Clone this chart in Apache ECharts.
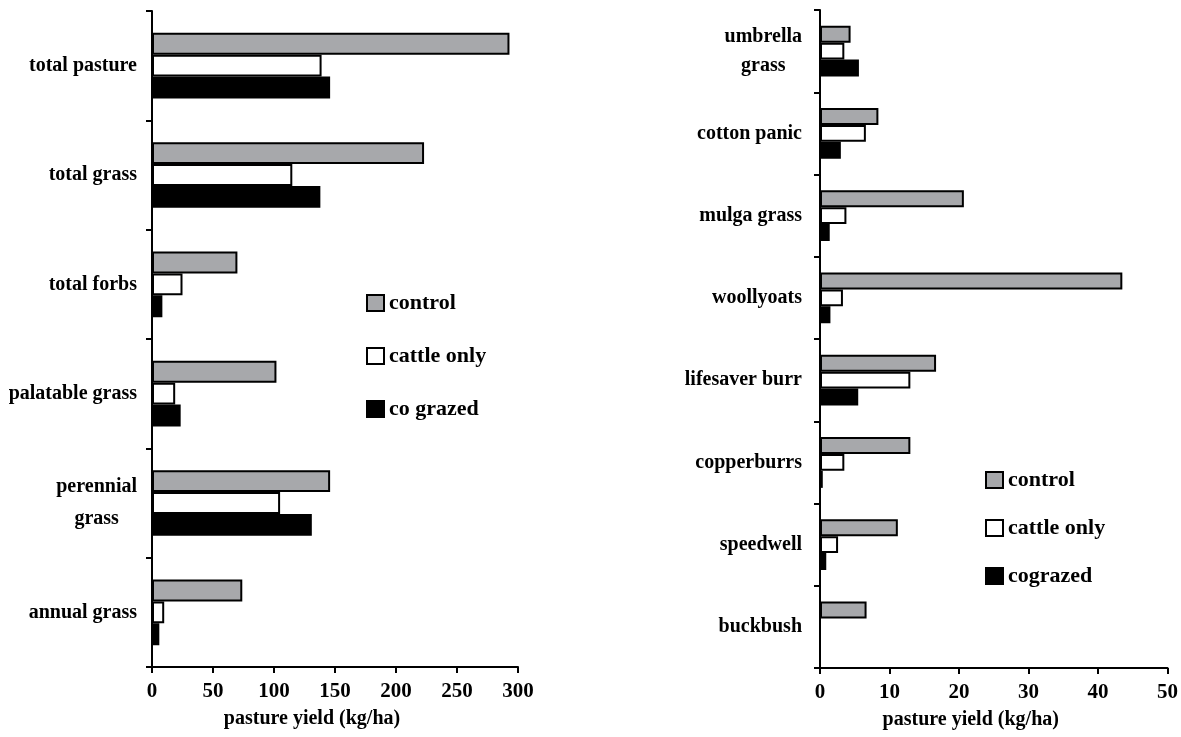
<!DOCTYPE html>
<html>
<head>
<meta charset="utf-8">
<script src="https://cdn.jsdelivr.net/npm/echarts@6/dist/echarts.min.js"></script>
<style>
  html, body { margin: 0; padding: 0; background: #fff; }
  #chart { width: 1181px; height: 737px; }
</style>
</head>
<body>
<div id="chart"></div>
<script>
// Pasture yield by component (left) and by species (right), kg/ha
const leftCategories = ['total pasture', 'total grass', 'total forbs', 'palatable grass', 'perennial\ngrass', 'annual grass'];
const leftControl = [293, 223, 70, 102, 146, 74];
const leftCattleOnly = [139, 115, 25, 19, 105, 10];
const leftCoGrazed = [146, 138, 8.5, 23.5, 131, 6];

const rightCategories = ['umbrella\ngrass', 'cotton panic', 'mulga grass', 'woollyoats', 'lifesaver burr', 'copperburrs', 'speedwell', 'buckbush'];
const rightControl = [4.4, 8.4, 20.7, 43.5, 16.7, 13.0, 11.2, 6.7];
const rightCattleOnly = [3.5, 6.6, 3.8, 3.3, 13.0, 3.5, 2.6, 0];
const rightCoGrazed = [5.6, 3.0, 1.4, 1.5, 5.5, 0.4, 0.9, 0];

const leftTicks = { min: 0, max: 300, interval: 50 };
const rightTicks = { min: 0, max: 50, interval: 10 };

const FONT = '"Liberation Serif", "Times New Roman", serif';
const GREY = '#a7a8ab';

const chart = echarts.init(document.getElementById('chart'));

function valueAxis(gridIndex, ticks) {
  return {
    type: 'value', gridIndex: gridIndex,
    min: ticks.min, max: ticks.max, interval: ticks.interval,
    name: 'pasture yield (kg/ha)', nameLocation: 'middle', nameGap: 42,
    nameTextStyle: { fontFamily: FONT, fontSize: 20, fontWeight: 'bold', color: '#000', padding: [0, 46, 0, 0] },
    axisLine: { show: true, lineStyle: { color: '#000', width: 2 } },
    axisTick: { show: true, length: 6, lineStyle: { color: '#000', width: 2 } },
    axisLabel: { fontFamily: FONT, fontSize: 21, fontWeight: 'bold', color: '#000', margin: 14 },
    splitLine: { show: false }
  };
}

function categoryAxis(gridIndex, cats, lineHeight, margin) {
  return {
    type: 'category', gridIndex: gridIndex, data: cats, inverse: true,
    axisLine: { show: true, lineStyle: { color: '#000', width: 2 } },
    axisTick: { show: true, length: 6, alignWithLabel: false, lineStyle: { color: '#000', width: 2 } },
    axisLabel: {
      margin: margin, color: '#000',
      formatter: function (v) { return v.split('\n').map(function (s) { return '{c|' + s + '}'; }).join('\n'); },
      rich: { c: { fontFamily: FONT, fontSize: 20, fontWeight: 'bold', color: '#000', align: 'center', lineHeight: lineHeight } }
    },
    splitLine: { show: false }
  };
}

function barSeries(name, data, color, axisIndex, gap) {
  return {
    type: 'bar', name: name, data: data,
    xAxisIndex: axisIndex, yAxisIndex: axisIndex,
    barGap: '0%', barCategoryGap: gap,
    itemStyle: { color: color, borderColor: '#000', borderWidth: 2 },
    emphasis: { disabled: true },
    animation: false
  };
}

const legendCommon = {
  orient: 'vertical', itemWidth: 17, itemHeight: 16, padding: 0,
  icon: 'rect',
  textStyle: { fontFamily: FONT, fontSize: 22, fontWeight: 'bold', color: '#000' },
  itemStyle: { borderColor: '#000', borderWidth: 2 },
  selectedMode: false
};

chart.setOption({
  animation: false,
  backgroundColor: '#fff',
  grid: [
    { left: 152, top: 11, width: 366, height: 656, containLabel: false },
    { left: 820, top: 10, width: 348, height: 658, containLabel: false }
  ],
  xAxis: [valueAxis(0, leftTicks), valueAxis(1, rightTicks)],
  yAxis: [categoryAxis(0, leftCategories, 32, 15), categoryAxis(1, rightCategories, 29, 18)],
  legend: [
    Object.assign({}, legendCommon, { left: 366, top: 292, itemGap: 31, data: ['control', 'cattle only', 'co grazed'] }),
    Object.assign({}, legendCommon, { left: 985, top: 469, itemGap: 26, data: ['control', 'cattle only', 'cograzed'] })
  ],
  series: [
    barSeries('control', leftControl, GREY, 0, '40%'),
    barSeries('cattle only', leftCattleOnly, '#fff', 0, '40%'),
    barSeries('co grazed', leftCoGrazed, '#000', 0, '40%'),
    barSeries('control', rightControl, GREY, 1, '38%'),
    barSeries('cattle only', rightCattleOnly, '#fff', 1, '38%'),
    barSeries('cograzed', rightCoGrazed, '#000', 1, '38%')
  ]
});
</script>
</body>
</html>
